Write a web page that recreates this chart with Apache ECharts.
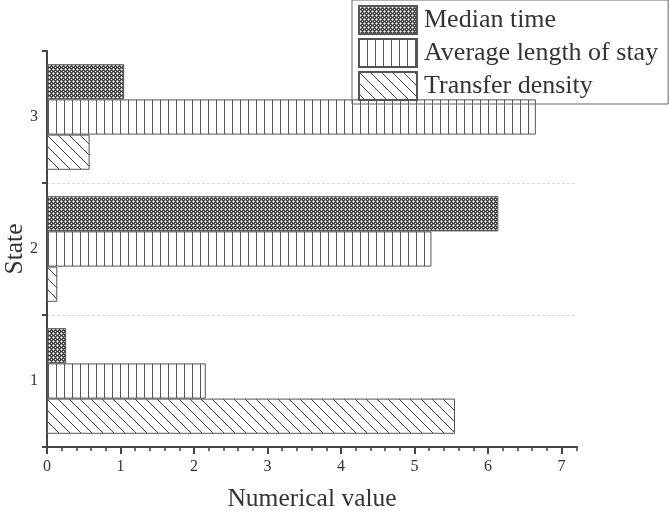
<!DOCTYPE html>
<html>
<head>
<meta charset="utf-8">
<script src="https://cdn.jsdelivr.net/npm/echarts@6/dist/echarts.min.js"></script>
<style>html,body{margin:0;padding:0;background:#fff}#c{width:669px;height:514px}</style>
</head>
<body>
<div id="c"></div>
<script>
const states = ['1', '2', '3'];
const seriesNames = ['Median time', 'Average length of stay', 'Transfer density'];
const medianTime = [0.26, 6.14, 1.05];
const avgStay = [2.16, 5.23, 6.65];
const transferDensity = [5.55, 0.14, 0.58];
const xTicks = [0, 1, 2, 3, 4, 5, 6, 7];

function makeCanvas(w, h, draw) {
  const c = document.createElement('canvas');
  c.width = w; c.height = h;
  const ctx = c.getContext('2d');
  draw(ctx, w, h);
  return c;
}
const crossPat = makeCanvas(4, 4, (ctx) => {
  ctx.fillStyle = '#484848'; ctx.fillRect(0, 0, 4, 4);
  ctx.fillStyle = '#ffffff';
  ctx.fillRect(1, 1, 1, 1); ctx.fillRect(3, 3, 1, 1);
  ctx.fillStyle = '#b0b0b0';
  ctx.fillRect(0, 1, 1, 1); ctx.fillRect(2, 1, 1, 1);
  ctx.fillRect(1, 0, 1, 1); ctx.fillRect(1, 2, 1, 1);
});
const vertPat = makeCanvas(8, 2, (ctx) => {
  ctx.fillStyle = '#ffffff'; ctx.fillRect(0, 0, 8, 2);
  ctx.fillStyle = '#555555'; ctx.fillRect(0, 0, 1, 2);
});
const diagPat = makeCanvas(11, 11, (ctx, w, h) => {
  ctx.fillStyle = '#ffffff'; ctx.fillRect(0, 0, w, h);
  ctx.strokeStyle = '#444444'; ctx.lineWidth = 1;
  ctx.beginPath();
  ctx.moveTo(-2, -2); ctx.lineTo(w + 2, h + 2);
  ctx.moveTo(-2 - w, -2); ctx.lineTo(2, h + 2);
  ctx.moveTo(w - 2, -2); ctx.lineTo(2 * w + 2, h + 2);
  ctx.stroke();
});
const patterns = [crossPat, vertPat, diagPat];
const values = [medianTime, avgStay, transferDensity];

const serif = 'Liberation Serif';
const chart = echarts.init(document.getElementById('c'), null, {renderer: 'canvas'});
chart.setOption({
  animation: false,
  legend: {
    orient: 'vertical', left: 352, top: 0,
    padding: [5, 10, 3, 6],
    itemWidth: 58, itemHeight: 28, itemGap: 3,
    borderColor: '#666', borderWidth: 1,
    icon: 'rect',
    data: seriesNames,
    textStyle: {fontFamily: serif, fontSize: 26, color: '#333', padding: [0, 0, 0, 2]}
  },
  grid: {left: 47, top: 51, width: 530, height: 396, outerBoundsMode: 'none', containLabel: false},
  xAxis: {
    type: 'value', min: 0, max: 7.21, interval: 1,
    name: 'Numerical value', nameLocation: 'middle', nameGap: 39,
    nameTextStyle: {fontFamily: serif, fontSize: 25.5, color: '#333'},
    axisLine: {show: true, lineStyle: {color: '#444', width: 2}},
    axisTick: {show: true, length: 7, lineStyle: {color: '#444', width: 2}, customValues: xTicks},
    minorTick: {show: true, splitNumber: 5, length: 4, lineStyle: {color: '#444', width: 1.5}},
    axisLabel: {fontFamily: serif, fontSize: 16, color: '#333', margin: 12, customValues: xTicks},
    splitLine: {show: false}
  },
  yAxis: {
    type: 'category', data: states,
    name: 'State', nameLocation: 'middle', nameGap: 19, nameMoveOverlap: false,
    nameTextStyle: {fontFamily: serif, fontSize: 25.5, color: '#333'},
    axisLine: {show: true, lineStyle: {color: '#444', width: 2}},
    axisTick: {show: true, length: 5, lineStyle: {color: '#444', width: 2}},
    axisLabel: {fontFamily: serif, fontSize: 16, color: '#333', margin: 9},
    splitLine: {show: true, showMinLine: false, showMaxLine: false,
      lineStyle: {color: '#dcdcdc', width: 1, type: [3, 2]}}
  },
  series: [0, 1, 2].map(i => ({
    name: seriesNames[i], type: 'bar',
    data: values[i],
    barGap: '0%', barCategoryGap: '20%',
    itemStyle: {color: {image: patterns[i], repeat: 'repeat'}, borderColor: '#555', borderWidth: 1},
    emphasis: {disabled: true}
  }))
});
</script>
</body>
</html>
